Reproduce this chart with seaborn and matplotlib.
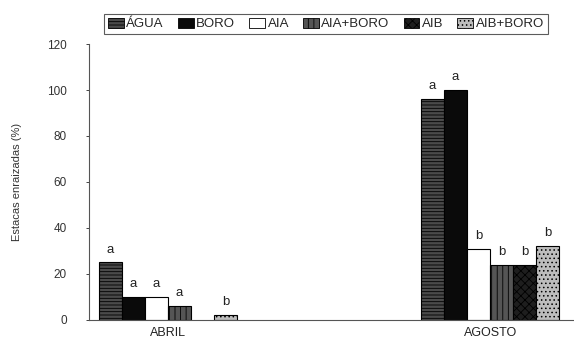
import matplotlib
matplotlib.use("Agg")
import matplotlib.pyplot as plt
from matplotlib.patches import Patch
import seaborn as sns
import pandas as pd

# Rooted cuttings (%) by treatment and collection month
meses = ["ABRIL", "AGOSTO"]
tratamientos = ["ÁGUA", "BORO", "AIA", "AIA+BORO", "AIB", "AIB+BORO"]
valores_abril = [25, 10, 10, 6, 0, 2]
valores_agosto = [96, 100, 31, 24, 24, 32]
letras_abril = ["a", "a", "a", "a", "", "b"]
letras_agosto = ["a", "a", "b", "b", "b", "b"]
yticks = [0, 20, 40, 60, 80, 100, 120]

df = pd.DataFrame({
    "mes": [meses[0]] * len(tratamientos) + [meses[1]] * len(tratamientos),
    "tratamiento": tratamientos * 2,
    "valor": valores_abril + valores_agosto,
})

sns.set_theme(style="white")
plt.rcParams["font.family"] = ["Liberation Sans", "DejaVu Sans"]
plt.rcParams["hatch.linewidth"] = 0.6

colores = ["#4a4a4a", "#0a0a0a", "#ffffff", "#555555", "#1e1e1e", "#bdbdbd"]
tramas = ["-----", "", "", "|||", "xxxx", "...."]

fig = plt.figure(figsize=(5.74, 3.44), dpi=100)
ax = fig.add_axes([0.155, 0.07, 0.845, 0.802])

sns.barplot(data=df, x="mes", y="valor", hue="tratamiento", hue_order=tratamientos,
            order=meses, palette=colores, width=0.43, edgecolor="black",
            linewidth=0.8, legend=False, ax=ax, errorbar=None, saturation=1)

letras = {meses[0]: letras_abril, meses[1]: letras_agosto}
for i, cont in enumerate(ax.containers):
    for j, bar in enumerate(cont.patches):
        bar.set_hatch(tramas[i])
        if bar.get_height() == 0:
            bar.set_visible(False)
        txt = letras[meses[j]][i]
        if txt:
            ax.text(bar.get_x() + bar.get_width() / 2, bar.get_height() + 3, txt,
                    ha="center", va="bottom", fontsize=9.5, color="#222222")

ax.set_xlim(-0.245, 1.26)
ax.set_ylim(0, 120)
ax.set_yticks(yticks)
ax.set_yticklabels([str(t) for t in yticks], fontsize=8.5, color="#333333")
ax.tick_params(axis="y", length=2, width=0.6, pad=14, left=True)
ax.tick_params(axis="x", length=0, labelsize=9, labelcolor="#222222", pad=5)
ax.set_xlabel("")
ax.set_ylabel("Estacas enraizadas (%)", fontsize=8, color="#333333", labelpad=18)
for s in ["top", "right"]:
    ax.spines[s].set_visible(False)
for s in ["left", "bottom"]:
    ax.spines[s].set_color("#555555")
    ax.spines[s].set_linewidth(0.8)

handles = [Patch(facecolor=c, edgecolor="black", hatch=h, linewidth=0.6)
           for c, h in zip(colores, tramas)]
leg = fig.legend(handles, tratamientos, ncol=6, loc="center",
                 bbox_to_anchor=(0.568, 0.93), frameon=True, fancybox=False,
                 edgecolor="#333333", fontsize=9.5, handlelength=1.2,
                 handleheight=0.8, handletextpad=0.2, columnspacing=1.05,
                 borderpad=0.3, borderaxespad=0)
leg.get_frame().set_linewidth(0.8)

fig.savefig("out.png", dpi=100)
